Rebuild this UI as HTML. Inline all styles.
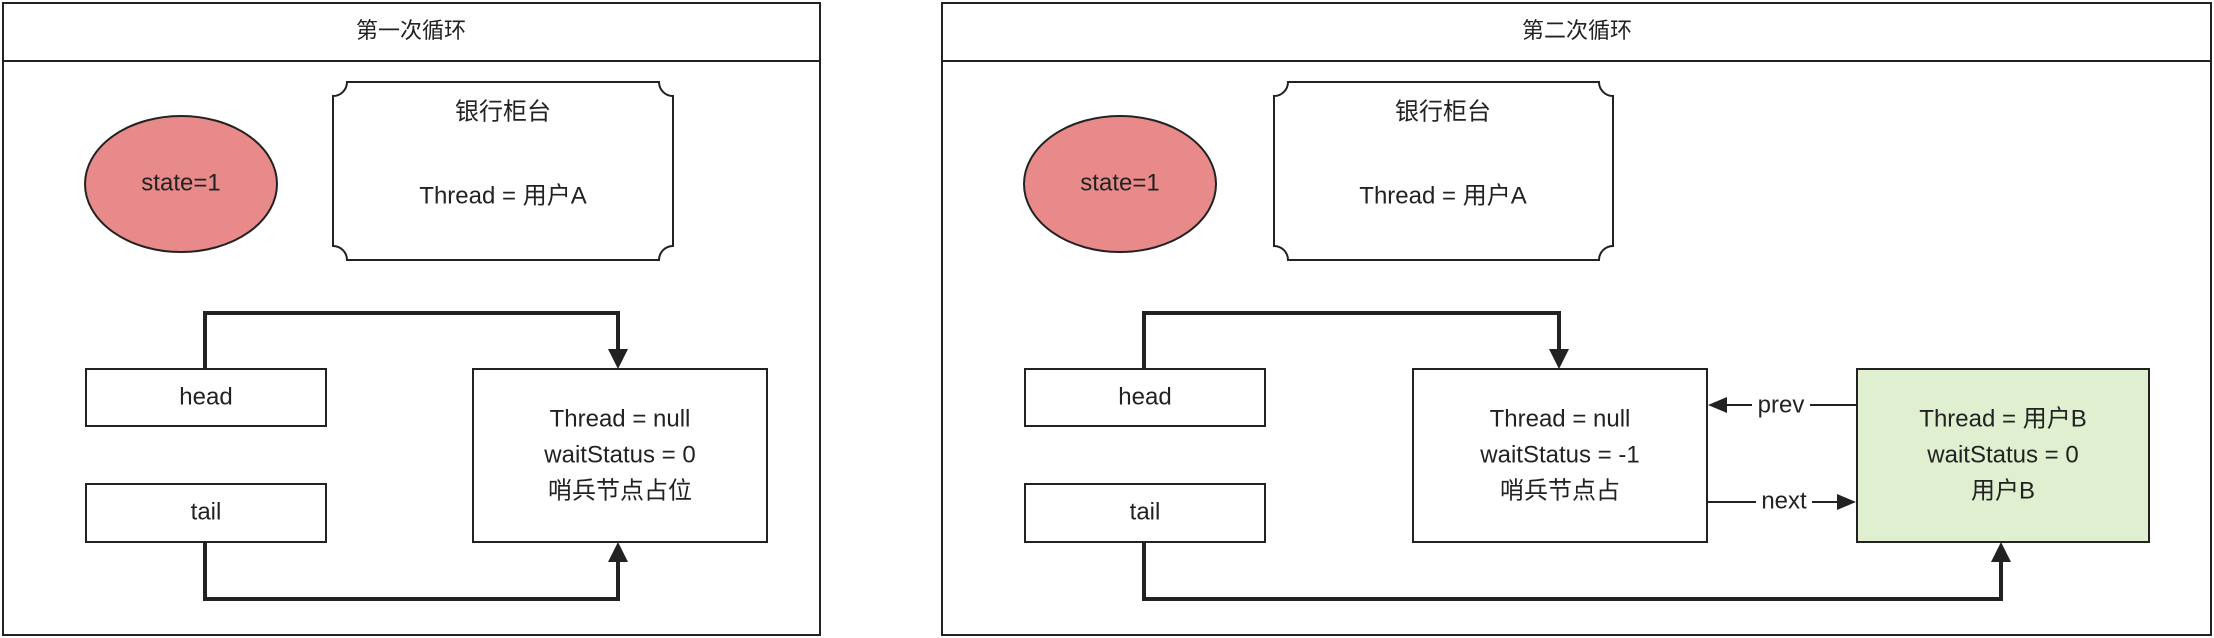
<!DOCTYPE html>
<html><head><meta charset="utf-8"><style>
html,body{margin:0;padding:0;background:#fff;}
svg{display:block;}
text{font-family:"Liberation Sans","Noto Sans CJK SC",sans-serif;fill:#222;text-anchor:middle;dominant-baseline:middle;}
</style></head><body>
<svg width="2214" height="638" viewBox="0 0 2214 638" xmlns="http://www.w3.org/2000/svg">
<g stroke="#222" stroke-width="2" fill="none">
<rect x="3" y="3" width="817" height="632" fill="#fff"/>
<line x1="3" y1="61" x2="820" y2="61"/>
<ellipse cx="181" cy="184" rx="96" ry="68" fill="#e88a8a"/>
<path d="M347,82 H659 A14,14 0 0 0 673,96 V246 A14,14 0 0 0 659,260 H347 A14,14 0 0 0 333,246 V96 A14,14 0 0 0 347,82 Z" fill="#fff"/>
<rect x="86" y="369" width="240" height="57" fill="#fff"/>
<rect x="86" y="484" width="240" height="58" fill="#fff"/>
<rect x="473" y="369" width="294" height="173" fill="#fff"/>
<rect x="942" y="3" width="1269" height="632" fill="#fff"/>
<line x1="942" y1="61" x2="2211" y2="61"/>
<ellipse cx="1120" cy="184" rx="96" ry="68" fill="#e88a8a"/>
<path d="M1288,82 H1599 A14,14 0 0 0 1613,96 V246 A14,14 0 0 0 1599,260 H1288 A14,14 0 0 0 1274,246 V96 A14,14 0 0 0 1288,82 Z" fill="#fff"/>
<rect x="1025" y="369" width="240" height="57" fill="#fff"/>
<rect x="1025" y="484" width="240" height="58" fill="#fff"/>
<rect x="1413" y="369" width="294" height="173" fill="#fff"/>
<rect x="1857" y="369" width="292" height="173" fill="#dfefd0"/>
</g>
<g stroke="#222" stroke-width="4" fill="none">
<path d="M205,369 V313 H618 V350"/>
<path d="M205,542 V599 H618 V561"/>
<path d="M1144,369 V313 H1559 V350"/>
<path d="M1144,542 V599 H2001 V561"/>
</g>
<g fill="#222">
<path d="M608,349 L628,349 L618,369 z"/>
<path d="M608,562 L628,562 L618,542 z"/>
<path d="M1549,349 L1569,349 L1559,369 z"/>
<path d="M1991,562 L2011,562 L2001,542 z"/>
<path d="M1727,397 L1727,413 L1708,405 z"/>
<path d="M1837,494 L1837,510 L1856,502 z"/>
</g>
<g stroke="#222" stroke-width="2">
<line x1="1727" y1="405" x2="1752" y2="405"/>
<line x1="1810" y1="405" x2="1857" y2="405"/>
<line x1="1707" y1="502" x2="1756" y2="502"/>
<line x1="1812" y1="502" x2="1837" y2="502"/>
</g>
<g font-size="22">
<text x="411" y="32">第一次循环</text>
<text x="1577" y="32">第二次循环</text>
</g>
<g font-size="24">
<text x="181" y="184">state=1</text>
<text x="503" y="113">银行柜台</text>
<text x="503" y="197">Thread = 用户A</text>
<text x="206" y="398">head</text>
<text x="206" y="513">tail</text>
<text x="620" y="420">Thread = null</text>
<text x="620" y="456">waitStatus = 0</text>
<text x="620" y="492">哨兵节点占位</text>
<text x="1120" y="184">state=1</text>
<text x="1443" y="113">银行柜台</text>
<text x="1443" y="197">Thread = 用户A</text>
<text x="1145" y="398">head</text>
<text x="1145" y="513">tail</text>
<text x="1560" y="420">Thread = null</text>
<text x="1560" y="456">waitStatus = -1</text>
<text x="1560" y="492">哨兵节点占</text>
<text x="2003" y="420">Thread = 用户B</text>
<text x="2003" y="456">waitStatus = 0</text>
<text x="2003" y="492">用户B</text>
<text x="1781" y="406">prev</text>
<text x="1784" y="502">next</text>
</g>
</svg>
</body></html>
